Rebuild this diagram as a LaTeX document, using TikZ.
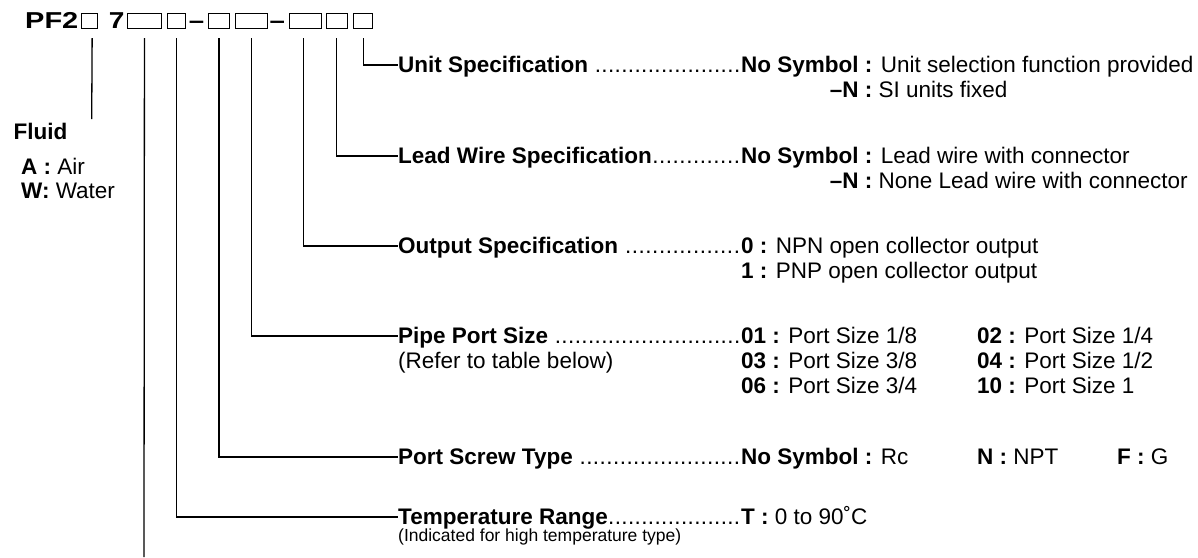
\documentclass[tikz,border=0pt]{standalone}
\usepackage{fontspec}
\setmainfont{Liberation Sans}
\newcommand\dotlead{\mdseries\xleaders\hbox to 6.6pt{\hss.}\hfill}
\newlength\nsw
\begin{document}
\fontsize{22.5}{27}\selectfont
\settowidth\nsw{\textbf{No Symbol :}}
\begin{tikzpicture}[x=1pt,y=-1pt,
  every node/.style={font=\fontsize{22.5}{27}\selectfont},
  conn/.style={line width=1.3pt},
  cell/.style={draw,line width=0.9pt,inner sep=0pt,minimum height=14.6pt,anchor=south west},
  lab/.style={anchor=west,inner sep=0pt,text height=18pt,text depth=4pt},
  val/.style={anchor=base west,inner sep=0pt},
  hdr/.style={anchor=base west,inner sep=0pt,font=\fontsize{23}{27}\selectfont\bfseries},
  small/.style={anchor=base west,inner sep=0pt,font=\fontsize{17.5}{21}\selectfont}]
\useasboundingbox (0,0) rectangle (1198,557);
% header
\node[hdr] (pf) at (25,28.6) {\scalebox{1.26}[1]{PF2}};
\node[cell,minimum width=16pt] (b1) at (80.7,28.6) {};
\node[hdr] (seven) at (108.6,28.6) {\scalebox{1.22}[1]{7}};
\node[cell,minimum width=34pt] (b2) at (127,28.6) {};
\node[cell,minimum width=18.3pt] (b3) at (166.7,28.6) {};
\node[hdr] (d1) at (188.7,28.6) {\scalebox{1.2}[1]{–}};
\node[cell,minimum width=21pt] (b4) at (208,28.6) {};
\node[cell,minimum width=31.7pt] (b5) at (235,28.6) {};
\node[hdr] (d2) at (269.3,28.6) {\scalebox{1.2}[1]{–}};
\node[cell,minimum width=32pt] (b6) at (288.7,28.6) {};
\node[cell,minimum width=21pt] (b7) at (325.7,28.6) {};
\node[cell,minimum width=19pt] (b8) at (353.3,28.6) {};
% fluid
\coordinate (fluidend) at (91.7,119);
\coordinate (bottomend) at (144,557);
\node[val] (fluid) at (13.5,139) {\textbf{Fluid}};
\node[val] (fa) at (21,174) {\textbf{A :} Air};
\node[val] (fw) at (21,198) {\textbf{W:} Water};
% labels
\node[lab] (unit) at (398,65) {\makebox[342pt][l]{\textbf{Unit Specification} \dotlead}};
\node[lab] (lead) at (398,156) {\makebox[342pt][l]{\textbf{Lead Wire Specification}\dotlead}};
\node[lab] (out) at (398,246) {\makebox[342pt][l]{\textbf{Output Specification} \dotlead}};
\node[lab] (pipe) at (398,336) {\makebox[342pt][l]{\textbf{Pipe Port Size} \dotlead}};
\node[val] (refer) at (398,368) {(Refer to table below)};
\node[lab] (screw) at (398,457) {\makebox[342pt][l]{\textbf{Port Screw Type} \dotlead}};
\node[lab] (temp) at (398,517) {\makebox[342pt][l]{\textbf{Temperature Range}\dotlead}};
\node[small] (tempnote) at (398,541) {(Indicated for high temperature type)};
% values
\node[val] (u1) at (741,72) {\textbf{No Symbol :} Unit selection function provided};
\node[val] (u2) at (741,97) {\makebox[\nsw][r]{\textbf{–N :}} SI units fixed};
\node[val] (l1) at (741,163) {\textbf{No Symbol :} Lead wire with connector};
\node[val] (l2) at (741,188) {\makebox[\nsw][r]{\textbf{–N :}} None Lead wire with connector};
\node[val] (o1) at (741,253) {\textbf{0 :} NPN open collector output};
\node[val] (o2) at (741,278) {\textbf{1 :} PNP open collector output};
\node[val] (p1) at (741,343) {\textbf{01 :} Port Size 1/8};
\node[val] (p2) at (977,343) {\textbf{02 :} Port Size 1/4};
\node[val] (p3) at (741,368) {\textbf{03 :} Port Size 3/8};
\node[val] (p4) at (977,368) {\textbf{04 :} Port Size 1/2};
\node[val] (p5) at (741,393) {\textbf{06 :} Port Size 3/4};
\node[val] (p6) at (977,393) {\textbf{10 :} Port Size 1};
\node[val] (s1) at (741,464) {\textbf{No Symbol :} Rc};
\node[val] (s2) at (977,464) {\textbf{N :} NPT};
\node[val] (s3) at (1117,464) {\textbf{F :} G};
\node[val] (t1) at (741,524) {\textbf{T :} 0 to 90˚C};
% connectors
\draw[conn] ([xshift=3pt,yshift=-9.5pt]b1.south) -- (fluidend);
\draw[conn] ([yshift=-9.5pt]b2.south) -- (bottomend);
\draw[conn] ([yshift=-9.5pt]b3.south) |- (temp.west);
\draw[conn] ([yshift=-9.5pt]b4.south) |- (screw.west);
\draw[conn] ([yshift=-9.5pt]b5.south) |- (pipe.west);
\draw[conn] ([xshift=-1.4pt,yshift=-9.5pt]b6.south) |- (out.west);
\draw[conn] ([yshift=-9.5pt]b7.south) |- (lead.west);
\draw[conn] ([yshift=-9.5pt]b8.south) |- (unit.west);
\end{tikzpicture}
\end{document}
